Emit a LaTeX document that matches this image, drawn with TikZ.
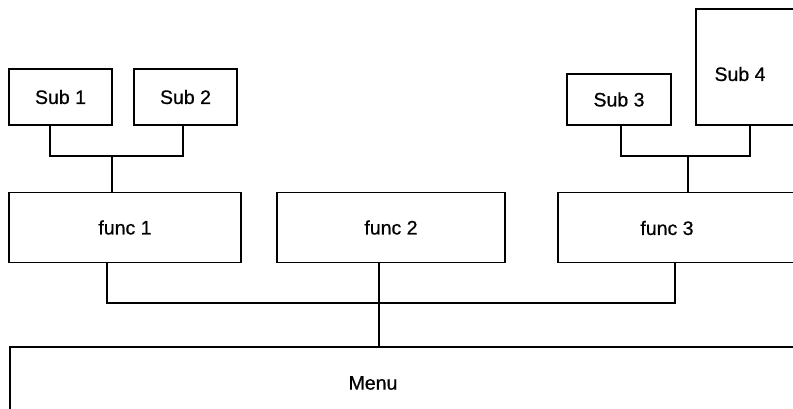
\documentclass[tikz,border=0pt]{standalone}
\usepackage{fontspec}
\setmainfont[FakeBold=0.6]{Liberation Sans}
\begin{document}
\begin{tikzpicture}[x=1pt,y=-1pt,
  box/.style={draw,line width=1.8pt,rectangle,inner sep=0pt,
    font=\fontsize{19.5}{22}\selectfont},
  label text/.style={font=\fontsize{19.5}{22}\selectfont,inner sep=0pt},
  wire/.style={line width=1.7pt}]
\useasboundingbox (0,0) rectangle (793,409);
\clip (0,0) rectangle (793,409);

% second level: sub-functions
\node[box,minimum width=103pt,minimum height=56pt] (s1) at (60.5,97) {Sub 1};
\node[box,minimum width=103pt,minimum height=56pt] (s2) at (185.5,97) {Sub 2};
\node[box,minimum width=104pt,minimum height=51pt] (s3) at (619,99.5) {Sub 3};
\node[box,minimum width=120pt,minimum height=116pt] (s4) at (756,67) {};
\node[label text] (s4t) at (740,74) {Sub 4};

% first level: functions
\node[box,minimum width=232pt,minimum height=70pt] (f1) at (125,227.5) {func 1};
\node[box,minimum width=228pt,minimum height=70pt] (f2) at (391,227.5) {func 2};
\node[box,minimum width=250pt,minimum height=70pt] (f3) at (683,227.5) {};
\node[label text] (f3t) at (667,228) {func 3};

% main menu
\node[box,minimum width=820pt,minimum height=90pt,anchor=north west] (menu) at (9,346) {};
\node[label text] (mt) at (373,383) {Menu};

% junction points of the connector trees
\coordinate (j1) at (112,156);
\coordinate (j3) at (688,156);
\coordinate (bus) at (379,303);

% sub-function trees
\draw[wire] ([xshift=-10.5pt]s1.south) |- (j1) -| ([xshift=-2.5pt]s2.south);
\draw[wire] (j1) -- (j1 |- f1.north);
\draw[wire] ([xshift=2pt]s3.south) |- (j3) -| ([xshift=-6pt]s4.south);
\draw[wire] (j3) -- (j3 |- f3.north);

% function bus to the menu
\draw[wire] ([xshift=-18pt]f1.south) |- (bus) -| ([xshift=-8pt]f3.south);
\draw[wire] ([xshift=-12pt]f2.south) -- (menu.north -| bus);
\end{tikzpicture}
\end{document}
